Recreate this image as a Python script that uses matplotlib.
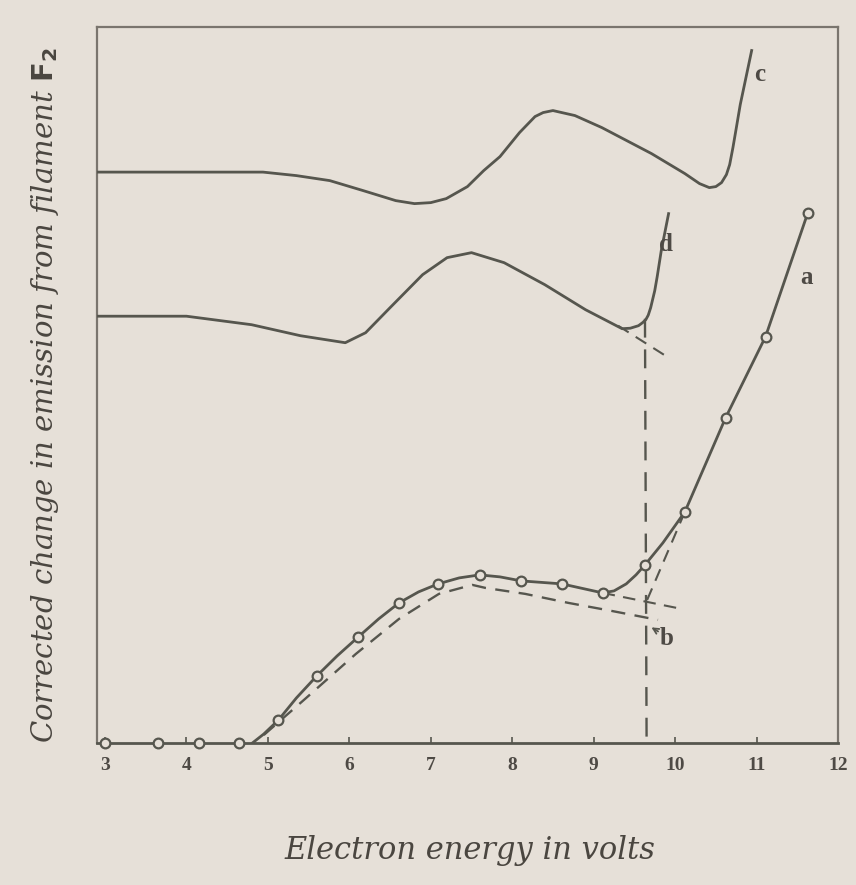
import matplotlib
matplotlib.use("Agg")
import matplotlib.pyplot as plt

# ---- data (y in arbitrary units) ----
a_x = [3.00, 3.65, 4.16, 4.65, 5.13, 5.60, 6.11, 6.61, 7.09, 7.60, 8.11, 8.61, 9.11, 9.63, 10.12, 10.62, 11.11, 11.63]
a_y = [0.0, 0.0, 0.0, 0.0, 2.3, 6.7, 10.6, 14.0, 15.9, 16.8, 16.2, 15.9, 15.0, 17.8, 23.1, 32.5, 40.6, 53.0]

# smooth line drawn through curve a
a_line_x = [4.81, 4.95, 5.13, 5.35, 5.60, 5.85, 6.11, 6.36, 6.61, 6.85, 7.09, 7.35, 7.60, 7.85, 8.11, 8.61, 9.11, 9.25, 9.40, 9.52, 9.63, 9.85, 10.12, 10.62, 11.11, 11.63]
a_line_y = [0.0, 0.9, 2.3, 4.5, 6.7, 8.7, 10.6, 12.4, 14.0, 15.1, 15.9, 16.5, 16.8, 16.6, 16.2, 15.9, 15.0, 15.2, 15.9, 16.8, 17.8, 20.0, 23.1, 32.5, 40.6, 53.0]

b_x = [4.95, 5.47, 6.08, 6.61, 7.10, 7.51, 7.67, 8.16, 8.69, 9.22, 9.79]
b_y = [0.8, 4.5, 8.9, 12.4, 14.9, 15.8, 15.5, 14.9, 14.0, 13.2, 12.3]

c_x = [2.90, 4.94, 5.35, 5.76, 6.17, 6.57, 6.80, 7.00, 7.19, 7.45, 7.65, 7.85, 8.09, 8.28, 8.38, 8.50, 8.77, 9.10, 9.71, 10.12, 10.30, 10.42, 10.50, 10.57, 10.63, 10.67, 10.71, 10.75, 10.80, 10.87, 10.94]
c_y = [57.05, 57.05, 56.7, 56.2, 55.2, 54.2, 53.9, 54.0, 54.4, 55.6, 57.2, 58.6, 61.0, 62.6, 63.0, 63.2, 62.7, 61.5, 58.9, 56.9, 55.9, 55.5, 55.6, 56.0, 56.8, 57.8, 59.5, 61.4, 63.8, 66.5, 69.2]

d_x = [2.90, 4.00, 4.80, 5.40, 5.95, 6.20, 6.50, 6.90, 7.20, 7.50, 7.90, 8.40, 8.90, 9.35, 9.45, 9.55, 9.60, 9.64, 9.67, 9.70, 9.75, 9.78, 9.83, 9.92]
d_y = [42.65, 42.65, 41.8, 40.7, 40.0, 41.0, 43.5, 46.8, 48.5, 49.0, 48.0, 45.8, 43.3, 41.4, 41.45, 41.7, 42.0, 42.3, 42.75, 43.5, 45.2, 46.6, 49.2, 52.9]

# dashed construction lines
plateau_ext_x = [9.11, 10.08]
plateau_ext_y = [15.0, 13.4]
steep_ext_x = [10.12, 9.62]
steep_ext_y = [23.1, 13.6]
vert_x = [9.63, 9.65]
vert_y = [42.4, 0.0]
d_ext_x = [9.30, 9.94]
d_ext_y = [41.7, 38.4]

xticks = [3, 4, 5, 6, 7, 8, 9, 10, 11, 12]

BG = "#e6e0d8"
INK = "#56564e"

fig = plt.figure(figsize=(8.56, 8.85), dpi=100, facecolor=BG)
ax = fig.add_axes([97/856, 1-743/885, (838-97)/856, (743-27)/885])
ax.set_facecolor(BG)
ax.set_xlim(2.902, 11.975)
ax.set_ylim(0, 71.55)

for s in ax.spines.values():
    s.set_color("#7a756e")
    s.set_linewidth(1.6)
ax.spines["bottom"].set_color(INK)
ax.spines["bottom"].set_linewidth(2.0)

ax.set_xticks(xticks)
ax.set_xticklabels([str(t) for t in xticks], family="Liberation Serif", fontweight="bold",
                   fontsize=14, color="#4e4a45")
ax.tick_params(axis="x", direction="in", length=4, width=1.2, color=INK, pad=10)
ax.set_yticks([])

lw = 2.0
ax.plot(a_line_x, a_line_y, color=INK, lw=lw, zorder=3)
ax.plot(a_x, a_y, linestyle="none", marker="o", ms=7, mfc=BG, mec=INK, mew=1.6,
        zorder=4, clip_on=False)
ax.plot(c_x, c_y, color=INK, lw=lw, zorder=3)
ax.plot(d_x, d_y, color=INK, lw=lw, zorder=3)

dash = (6, 4)
ax.plot(b_x, b_y, color=INK, lw=1.7, dashes=dash, zorder=2)
ax.plot(plateau_ext_x, plateau_ext_y, color=INK, lw=1.5, dashes=dash, zorder=2)
ax.plot(steep_ext_x, steep_ext_y, color=INK, lw=1.5, dashes=dash, zorder=2)
ax.plot(vert_x, vert_y, color=INK, lw=1.7, dashes=(8, 5), zorder=2)
ax.plot(d_ext_x, d_ext_y, color=INK, lw=1.5, dashes=dash, zorder=2)

lab = dict(family="Liberation Serif", fontweight="bold", fontsize=18, color="#4e4a45",
           ha="center", va="center")
ax.text(11.04, 66.8, "c", **lab)
ax.text(9.89, 49.8, "d", **lab)
ax.text(11.61, 46.5, "a", **lab)
ax.text(9.89, 10.4, "b", **lab)
ax.annotate("", xy=(9.68, 11.7), xytext=(9.82, 11.0),
            arrowprops=dict(arrowstyle="->", color=INK, lw=1.3))

fig.text(45/856, 1-395/885, "Corrected change in emission from filament $\\mathbf{F_2}$",
         rotation=90, ha="center", va="center", family="DejaVu Serif", style="italic",
         fontsize=21, color="#4a4640")
fig.text(470/856, 1-850/885, "Electron energy in volts", ha="center", va="center",
         family="DejaVu Serif", style="italic", fontsize=22, color="#4a4640")

fig.savefig("out.png", dpi=100, facecolor=BG)
